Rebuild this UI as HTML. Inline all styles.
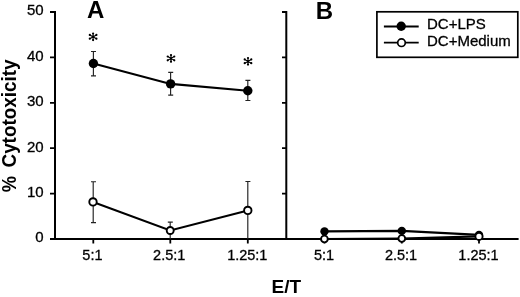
<!DOCTYPE html>
<html><head><meta charset="utf-8">
<style>
html,body{margin:0;padding:0;background:#fff;width:520px;height:297px;overflow:hidden}
svg{display:block;will-change:transform}
text{font-family:"Liberation Sans",sans-serif;fill:#000;stroke:#000;stroke-width:0.3px}
.t{font-size:14.5px}
.b{font-weight:bold;stroke:none}
</style></head><body>
<svg width="520" height="297" viewBox="0 0 520 297">
<!-- axes -->
<g stroke="#000" fill="none">
<path d="M55,11V240M286.3,11V240" stroke-width="2"/>
<path d="M50,239H518.6" stroke-width="2"/>
<path d="M50,12H55M50,57.4H55M50,102.8H55M50,148.2H55M50,193.6H55" stroke-width="1.8"/>
<path d="M282,12H286M282,57.4H286M282,102.8H286M282,148.2H286M282,193.6H286" stroke-width="1.8"/>
<path d="M93.3,239V243.5M170.3,239V243.5M247.8,239V243.5M324.5,239V243.5M401.8,239V243.5M479,239V243.5" stroke-width="1.8"/>
</g>
<!-- y tick labels -->
<g font-size="15" text-anchor="end">
<text x="43.7" y="14.9">50</text>
<text x="43.7" y="60.5">40</text>
<text x="43.7" y="106">30</text>
<text x="43.7" y="151.5">20</text>
<text x="43.7" y="196.9">10</text>
<text x="43.7" y="242.3">0</text>
</g>
<!-- x tick labels -->
<g class="t" text-anchor="middle">
<text x="92.4" y="260.45">5:1</text>
<text x="169.2" y="260.45">2.5:1</text>
<text x="247.3" y="260.45">1.25:1</text>
<text x="324" y="260.45">5:1</text>
<text x="401" y="260.45">2.5:1</text>
<text x="478.5" y="260.45">1.25:1</text>
</g>
<text class="b" x="286.3" y="293.2" text-anchor="middle" font-size="19">E/T</text>
<text class="b" transform="translate(15.9,167.5) rotate(-90)" font-size="20" textLength="108" lengthAdjust="spacingAndGlyphs">Cytotoxicity</text>
<text class="b" transform="translate(15.9,192.2) rotate(-90)" font-size="20" textLength="16.2" lengthAdjust="spacingAndGlyphs">%</text>
<text class="b" x="87" y="18.2" font-size="24">A</text>
<text class="b" x="315.8" y="18.7" font-size="24">B</text>
<!-- panel A error bars -->
<g stroke="#222" stroke-width="1.15" fill="none">
<path d="M93.4,51.5V75.8M91,51.5H96M91,75.8H96"/>
<path d="M170.6,72.3V95.1M168.2,72.3H173.2M168.2,95.1H173.2"/>
<path d="M247.8,80.3V100.5M245.4,80.3H250.4M245.4,100.5H250.4"/>
<path d="M93.2,181.7V222.6M91,181.7H96M91,222.6H96"/>
<path d="M170.2,222.1V239M167.8,222.1H172.8"/>
<path d="M247.8,181.5V239M245.4,181.5H250.4"/>
</g>
<!-- panel A lines -->
<g stroke="#000" stroke-width="2.1" fill="none">
<polyline points="93.4,63.5 170.6,83.9 247.8,90.7"/>
<polyline points="93,201.9 170.2,230.5 247.8,210.4"/>
<polyline points="324.5,231.4 401.8,230.9 479,234.9"/>
<polyline points="324.4,239 401.8,238.5 479,236.4"/>
</g>
<g fill="#000">
<circle cx="93.4" cy="63.5" r="4.7"/>
<circle cx="170.6" cy="83.9" r="4.7"/>
<circle cx="247.8" cy="90.7" r="4.7"/>
<circle cx="324.5" cy="231.4" r="4.2"/>
<circle cx="401.8" cy="230.9" r="4.2"/>
<circle cx="479" cy="234.9" r="4.2"/>
</g>
<g fill="#fff" stroke="#000" stroke-width="1.9">
<circle cx="93" cy="201.9" r="3.7"/>
<circle cx="170.2" cy="230.5" r="3.5"/>
<circle cx="247.8" cy="210.4" r="3.7"/>
<circle cx="324.4" cy="239" r="3.4"/>
<circle cx="401.8" cy="238.5" r="3.4"/>
<circle cx="479" cy="236.4" r="3.6"/>
</g>
<g transform="translate(93.1,36.8)"><path d="M0,-3.3V3.3M-3.3,-1.9L3.3,1.9M-3.3,1.9L3.3,-1.9" stroke="#000" stroke-width="1.1" stroke-linecap="round" fill="none"/><g fill="#000"><circle cx="0" cy="-3.3" r="1.1"/><circle cx="0" cy="3.3" r="1.1"/><circle cx="-3.3" cy="-1.9" r="1.1"/><circle cx="3.3" cy="1.9" r="1.1"/><circle cx="-3.3" cy="1.9" r="1.1"/><circle cx="3.3" cy="-1.9" r="1.1"/><circle r="1.2"/></g></g>
<g transform="translate(171,58.4)"><path d="M0,-3.3V3.3M-3.3,-1.9L3.3,1.9M-3.3,1.9L3.3,-1.9" stroke="#000" stroke-width="1.1" stroke-linecap="round" fill="none"/><g fill="#000"><circle cx="0" cy="-3.3" r="1.1"/><circle cx="0" cy="3.3" r="1.1"/><circle cx="-3.3" cy="-1.9" r="1.1"/><circle cx="3.3" cy="1.9" r="1.1"/><circle cx="-3.3" cy="1.9" r="1.1"/><circle cx="3.3" cy="-1.9" r="1.1"/><circle r="1.2"/></g></g>
<g transform="translate(248,61.3)"><path d="M0,-3.3V3.3M-3.3,-1.9L3.3,1.9M-3.3,1.9L3.3,-1.9" stroke="#000" stroke-width="1.1" stroke-linecap="round" fill="none"/><g fill="#000"><circle cx="0" cy="-3.3" r="1.1"/><circle cx="0" cy="3.3" r="1.1"/><circle cx="-3.3" cy="-1.9" r="1.1"/><circle cx="3.3" cy="1.9" r="1.1"/><circle cx="-3.3" cy="1.9" r="1.1"/><circle cx="3.3" cy="-1.9" r="1.1"/><circle r="1.2"/></g></g>
<!-- legend -->
<rect x="376.9" y="11.8" width="140.9" height="45.5" fill="none" stroke="#000" stroke-width="1.7"/>
<path d="M383.9,26.5H418.7M383.9,42.7H418.7" stroke="#000" stroke-width="1.8"/>
<circle cx="401.2" cy="26.3" r="4.7" fill="#000"/>
<circle cx="401.5" cy="42.7" r="3.8" fill="#fff" stroke="#000" stroke-width="1.7"/>
<text x="427" y="29.3" font-size="15">DC+LPS</text>
<text x="427" y="45.6" font-size="15">DC+Medium</text>
</svg>
</body></html>
